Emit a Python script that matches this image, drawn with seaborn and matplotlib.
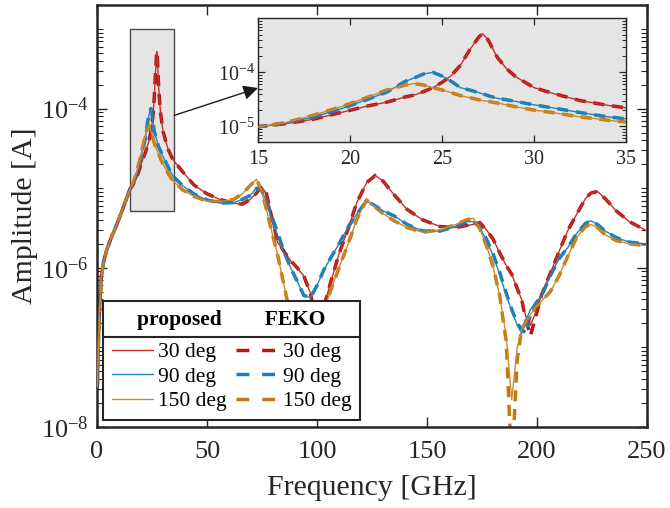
import numpy as np
import pandas as pd
import seaborn as sns
import matplotlib
matplotlib.use("Agg")
import matplotlib.pyplot as plt
from matplotlib.lines import Line2D
from matplotlib.patches import Rectangle
from matplotlib.font_manager import FontProperties
from matplotlib.ticker import (FixedLocator, LogLocator, NullLocator,
                               NullFormatter, LogFormatterMathtext)

# ---------------- data ----------------
freq_ghz = [0.2, 0.6, 1.2, 2, 3, 4.5, 6.5, 9, 12,
            15, 16.5, 18, 19.5, 21, 22, 23, 23.5, 24, 24.5, 25, 25.5, 26, 26.5, 27, 27.2,
            27.5, 28, 28.5, 29, 30, 31, 32.5, 34, 35,
            39, 44, 50, 56, 62, 66, 69.5, 72.5, 74.8, 77,
            79.5, 82, 85, 88, 91, 94, 97, 100, 103, 106,
            110, 114, 118, 122.5, 126.5, 130, 135, 141, 148, 156,
            163, 168, 171, 174, 177, 180, 183, 186, 188.5, 191,
            193, 195, 197, 199.5, 202, 206, 210, 214, 218, 222,
            224.5, 227.5, 231, 236, 242, 250]

proposed_30 = [4.5e-8, 1.3e-7, 3.5e-7, 7.9e-7, 1.2e-6, 1.7e-6, 2.4e-6, 3.5e-6, 5.8e-6,
               9.8e-6, 1.12e-5, 1.35e-5, 1.8e-5, 2.4e-5, 2.8e-5, 3.5e-5, 3.8e-5, 4.4e-5, 5.2e-5,
               6.5e-5, 8.7e-5, 1.35e-4, 2.6e-4, 4.5e-4, 5.2e-4, 4.0e-4, 1.9e-4, 1.17e-4, 8.3e-5,
               5.2e-5, 4.1e-5, 3.0e-5, 2.45e-5, 2.2e-5,
               1.6e-5, 1.1e-5, 8.5e-6, 7.2e-6, 6.5e-6, 6.3e-6, 7.2e-6, 8.7e-6, 1.05e-5, 8.5e-6,
               4.0e-6, 2.1e-6, 1.6e-6, 1.23e-6, 1.0e-6, 7.9e-7, 4.8e-7, 2.0e-7, 3.2e-7, 6.3e-7,
               1.5e-6, 3.0e-6, 6.5e-6, 1.17e-5, 1.45e-5, 1.23e-5, 8.3e-6, 5.4e-6, 4.0e-6, 3.3e-6,
               3.2e-6, 3.4e-6, 3.5e-6, 3.7e-6, 3.0e-6, 2.3e-6, 1.55e-6, 1.07e-6, 8.3e-7, 5.5e-7,
               4.0e-7, 2.4e-7, 1.9e-7, 2.8e-7, 4.5e-7, 8.5e-7, 1.6e-6, 2.95e-6, 4.7e-6, 7.4e-6,
               8.7e-6, 9.1e-6, 7.4e-6, 5.2e-6, 3.8e-6, 2.9e-6]

proposed_90 = [3.5e-8, 1.1e-7, 3.5e-7, 7.9e-7, 1.2e-6, 1.7e-6, 2.4e-6, 3.5e-6, 5.8e-6,
               9.8e-6, 1.15e-5, 1.48e-5, 2.1e-5, 3.2e-5, 4.3e-5, 6.8e-5, 7.9e-5, 9.3e-5, 1.0e-4,
               8.5e-5, 6.8e-5, 5.2e-5, 4.7e-5, 4.2e-5, 4.0e-5, 3.7e-5, 3.3e-5, 3.1e-5, 2.9e-5,
               2.5e-5, 2.2e-5, 1.8e-5, 1.5e-5, 1.38e-5,
               1.07e-5, 8.5e-6, 7.1e-6, 6.5e-6, 6.6e-6, 7.2e-6, 8.1e-6, 1.0e-5, 9.3e-6, 6.9e-6,
               4.0e-6, 2.6e-6, 1.5e-6, 1.0e-6, 6.8e-7, 4.5e-7, 4.2e-7, 6.0e-7, 9.3e-7, 1.3e-6,
               2.0e-6, 3.2e-6, 4.7e-6, 6.9e-6, 6.0e-6, 5.2e-6, 4.5e-6, 3.5e-6, 2.9e-6, 2.9e-6,
               3.3e-6, 3.8e-6, 3.8e-6, 3.2e-6, 2.2e-6, 1.45e-6, 8.3e-7, 4.5e-7, 2.9e-7, 1.9e-7,
               1.5e-7, 2.2e-7, 3.0e-7, 3.7e-7, 4.4e-7, 7.9e-7, 1.3e-6, 1.8e-6, 2.7e-6, 3.6e-6,
               3.9e-6, 3.5e-6, 2.9e-6, 2.4e-6, 2.1e-6, 2.0e-6]

proposed_150 = [3.2e-8, 1.0e-7, 3.2e-7, 7.6e-7, 1.2e-6, 1.7e-6, 2.4e-6, 3.5e-6, 5.8e-6,
                9.8e-6, 1.17e-5, 1.6e-5, 2.3e-5, 3.5e-5, 4.7e-5, 5.8e-5, 6.2e-5, 5.8e-5, 5.2e-5,
                4.7e-5, 4.2e-5, 3.7e-5, 3.4e-5, 3.1e-5, 3.0e-5, 2.9e-5, 2.7e-5, 2.5e-5, 2.3e-5,
                2.0e-5, 1.8e-5, 1.5e-5, 1.3e-5, 1.2e-5,
                9.5e-6, 7.9e-6, 6.9e-6, 6.8e-6, 7.2e-6, 8.5e-6, 1.07e-5, 1.3e-5, 9.3e-6, 5.4e-6,
                2.8e-6, 1.5e-6, 6.0e-7, 2.5e-7, 1.0e-7, 6.3e-8, 7.1e-8, 1.4e-7, 2.8e-7, 5.0e-7,
                1.0e-6, 1.95e-6, 4.0e-6, 7.1e-6, 5.8e-6, 4.8e-6, 3.9e-6, 3.2e-6, 2.8e-6, 3.0e-6,
                3.5e-6, 4.0e-6, 4.2e-6, 3.1e-6, 1.9e-6, 1.05e-6, 4.5e-7, 1.4e-7, 2.2e-8, 1.0e-7,
                1.7e-7, 2.1e-7, 2.6e-7, 3.2e-7, 3.8e-7, 5.0e-7, 7.9e-7, 1.4e-6, 2.4e-6, 3.3e-6,
                3.5e-6, 3.2e-6, 2.6e-6, 2.2e-6, 2.0e-6, 1.9e-6]

feko_30 = [4.5e-8, 1.3e-7, 3.5e-7, 7.9e-7, 1.2e-6, 1.7e-6, 2.4e-6, 3.5e-6, 5.8e-6,
           9.8e-6, 1.12e-5, 1.35e-5, 1.8e-5, 2.4e-5, 2.8e-5, 3.5e-5, 3.8e-5, 4.4e-5, 5.2e-5,
           6.5e-5, 8.7e-5, 1.35e-4, 2.6e-4, 4.5e-4, 5.2e-4, 4.0e-4, 1.9e-4, 1.17e-4, 8.3e-5,
           5.2e-5, 4.1e-5, 3.0e-5, 2.45e-5, 2.2e-5,
           1.6e-5, 1.1e-5, 8.5e-6, 7.2e-6, 6.5e-6, 6.3e-6, 7.2e-6, 8.7e-6, 1.05e-5, 8.6e-6,
           4.2e-6, 2.2e-6, 1.6e-6, 1.23e-6, 1.0e-6, 7.9e-7, 4.8e-7, 1.8e-7, 3.2e-7, 6.3e-7,
           1.5e-6, 3.0e-6, 6.5e-6, 1.17e-5, 1.45e-5, 1.23e-5, 8.3e-6, 5.4e-6, 4.0e-6, 3.3e-6,
           3.2e-6, 3.4e-6, 3.5e-6, 3.7e-6, 3.0e-6, 2.3e-6, 1.55e-6, 1.07e-6, 8.3e-7, 5.5e-7,
           4.0e-7, 2.2e-7, 1.4e-7, 2.5e-7, 4.5e-7, 8.5e-7, 1.6e-6, 2.95e-6, 4.7e-6, 7.4e-6,
           8.7e-6, 9.1e-6, 7.4e-6, 5.2e-6, 3.8e-6, 2.9e-6]

feko_90 = [3.5e-8, 1.1e-7, 3.5e-7, 7.9e-7, 1.2e-6, 1.7e-6, 2.4e-6, 3.5e-6, 5.8e-6,
           9.8e-6, 1.15e-5, 1.48e-5, 2.1e-5, 3.2e-5, 4.3e-5, 6.8e-5, 7.9e-5, 9.3e-5, 1.0e-4,
           8.5e-5, 6.8e-5, 5.2e-5, 4.7e-5, 4.2e-5, 4.0e-5, 3.7e-5, 3.3e-5, 3.1e-5, 2.9e-5,
           2.5e-5, 2.2e-5, 1.8e-5, 1.5e-5, 1.38e-5,
           1.07e-5, 8.5e-6, 7.1e-6, 6.5e-6, 6.6e-6, 7.2e-6, 8.1e-6, 1.0e-5, 9.3e-6, 7.2e-6,
           4.4e-6, 2.8e-6, 1.6e-6, 1.0e-6, 6.8e-7, 4.5e-7, 4.2e-7, 6.0e-7, 9.3e-7, 1.3e-6,
           2.0e-6, 3.2e-6, 4.7e-6, 6.9e-6, 6.0e-6, 5.2e-6, 4.5e-6, 3.5e-6, 2.9e-6, 2.9e-6,
           3.3e-6, 3.8e-6, 3.8e-6, 3.3e-6, 2.3e-6, 1.5e-6, 8.8e-7, 4.8e-7, 3.0e-7, 2.0e-7,
           1.7e-7, 1.5e-7, 2.6e-7, 3.6e-7, 4.4e-7, 7.9e-7, 1.3e-6, 1.8e-6, 2.7e-6, 3.6e-6,
           3.9e-6, 3.5e-6, 2.9e-6, 2.4e-6, 2.1e-6, 2.0e-6]

feko_150 = [3.2e-8, 1.0e-7, 3.2e-7, 7.6e-7, 1.2e-6, 1.7e-6, 2.4e-6, 3.5e-6, 5.8e-6,
            9.8e-6, 1.17e-5, 1.6e-5, 2.3e-5, 3.5e-5, 4.7e-5, 5.8e-5, 6.2e-5, 5.8e-5, 5.2e-5,
            4.7e-5, 4.2e-5, 3.7e-5, 3.4e-5, 3.1e-5, 3.0e-5, 2.9e-5, 2.7e-5, 2.5e-5, 2.3e-5,
            2.0e-5, 1.8e-5, 1.5e-5, 1.3e-5, 1.2e-5,
            9.5e-6, 7.9e-6, 6.9e-6, 6.8e-6, 7.2e-6, 8.5e-6, 1.07e-5, 1.3e-5, 9.3e-6, 5.4e-6,
            2.8e-6, 1.5e-6, 6.0e-7, 2.5e-7, 1.0e-7, 6.3e-8, 7.1e-8, 1.4e-7, 2.8e-7, 5.0e-7,
            1.0e-6, 1.95e-6, 4.0e-6, 7.1e-6, 5.8e-6, 4.8e-6, 3.9e-6, 3.2e-6, 2.8e-6, 3.0e-6,
            3.5e-6, 4.0e-6, 4.2e-6, 3.1e-6, 1.9e-6, 1.05e-6, 4.5e-7, 1.2e-7, 3.0e-9, 7.0e-8,
            1.7e-7, 2.1e-7, 2.6e-7, 3.2e-7, 3.8e-7, 5.0e-7, 7.9e-7, 1.4e-6, 2.4e-6, 3.3e-6,
            3.5e-6, 3.2e-6, 2.6e-6, 2.2e-6, 2.0e-6, 1.9e-6]

angle_labels = ["30 deg", "90 deg", "150 deg"]
proposed_series = [proposed_30, proposed_90, proposed_150]
feko_series = [feko_30, feko_90, feko_150]

# ---------------- style ----------------
solid_colors = ["#C3302A", "#2284BE", "#CC8A2C"]
dash_colors = ["#B5150F", "#1A7DB5", "#C27A10"]
text_col = "#262626"

sns.set_theme(style="white")
plt.rcParams.update({
    "font.family": ["Liberation Serif", "DejaVu Serif"],
    "mathtext.fontset": "custom",
    "mathtext.rm": "Liberation Serif",
    "mathtext.it": "Liberation Serif:italic",
    "mathtext.bf": "Liberation Serif:bold",
    "axes.edgecolor": text_col,
    "text.color": text_col,
    "xtick.color": text_col,
    "ytick.color": text_col,
    "axes.labelcolor": text_col,
})

rows = []
for lab, ys in zip(angle_labels, proposed_series):
    for f, a in zip(freq_ghz, ys):
        rows.append(("proposed", lab, f, a))
for lab, ys in zip(angle_labels, feko_series):
    for f, a in zip(freq_ghz, ys):
        rows.append(("FEKO", lab, f, a))
df = pd.DataFrame(rows, columns=["source", "angle", "freq", "amp"])

fig = plt.figure(figsize=(6.7, 5.08), dpi=100)
ax = fig.add_axes([0.1448, 0.1594, 0.8209, 0.8307])
axin = fig.add_axes([0.3851, 0.7211, 0.5493, 0.2429])

DASH = (0, (3.2, 2.2))


def draw(target, lw_d, lw_s):
    for i, lab in enumerate(angle_labels):
        sub = df[(df.source == "FEKO") & (df.angle == lab)]
        sns.lineplot(data=sub, x="freq", y="amp", ax=target, color=dash_colors[i],
                     linewidth=lw_d, linestyle=DASH, errorbar=None, legend=False,
                     zorder=2)
    for i, lab in enumerate(angle_labels):
        sub = df[(df.source == "proposed") & (df.angle == lab)]
        sns.lineplot(data=sub, x="freq", y="amp", ax=target, color=solid_colors[i],
                     linewidth=lw_s, errorbar=None, legend=False, zorder=3)


draw(ax, 2.5, 1.0)
draw(axin, 2.5, 1.0)

# main axes
ax.set_yscale("log")
ax.set_xlim(0, 250)
ax.set_ylim(1e-8, 2e-3)
ax.set_xticks([0, 50, 100, 150, 200, 250])
ax.xaxis.set_minor_locator(NullLocator())
ax.yaxis.set_major_locator(FixedLocator([1e-8, 1e-6, 1e-4]))
ax.yaxis.set_major_formatter(LogFormatterMathtext())
ax.yaxis.set_minor_locator(LogLocator(base=10, subs=np.arange(1, 10), numticks=100))
ax.yaxis.set_minor_formatter(NullFormatter())
ax.tick_params(which="both", direction="in", top=True, right=True, bottom=True, left=True)
ax.tick_params(which="major", length=7, width=1.0, labelsize=19)
ax.tick_params(which="minor", length=4, width=0.8)
ax.tick_params(axis="x", which="major", pad=10)
ax.tick_params(axis="y", which="major", pad=6)
for s in ax.spines.values():
    s.set_linewidth(1.8)
    s.set_color(text_col)
ax.set_xlabel("Frequency [GHz]", fontsize=21.5, labelpad=9)
ax.set_ylabel("Amplitude [A]", fontsize=21.5, labelpad=2)

# zoom rectangle
ax.add_patch(Rectangle((15, 5.2e-6), 20, 1e-3 - 5.2e-6, facecolor="#E5E5E5",
                       edgecolor="#4a4a4a", linewidth=1.0, zorder=1))

# inset
axin.set_facecolor("#E5E5E5")
axin.set_yscale("log")
axin.set_xlim(15, 35)
axin.set_ylim(5.2e-6, 1e-3)
axin.set_xticks([15, 20, 25, 30, 35])
axin.xaxis.set_minor_locator(NullLocator())
axin.yaxis.set_major_locator(FixedLocator([1e-5, 1e-4]))
axin.yaxis.set_major_formatter(LogFormatterMathtext())
axin.yaxis.set_minor_locator(LogLocator(base=10, subs=np.arange(1, 10), numticks=100))
axin.yaxis.set_minor_formatter(NullFormatter())
axin.tick_params(which="both", direction="in", top=True, right=True, bottom=True, left=True)
axin.tick_params(which="major", length=5, width=0.9, labelsize=14.5)
axin.tick_params(which="minor", length=3, width=0.7)
axin.tick_params(axis="x", which="major", pad=6)
axin.tick_params(axis="y", which="major", pad=2)
axin.set_xlabel("")
axin.set_ylabel("")
for s in axin.spines.values():
    s.set_linewidth(1.0)
    s.set_color(text_col)

# arrow from rectangle to inset
ax.annotate("", xy=(0.0, 0.435), xycoords=axin.transAxes,
            xytext=(35, 8.2e-5), textcoords="data",
            arrowprops=dict(arrowstyle="-|>", color="#1a1a1a", lw=1.0,
                            mutation_scale=22, shrinkA=0, shrinkB=0))

# legend
handles = [Line2D([], [], color=c, lw=1.0) for c in solid_colors] + \
          [Line2D([], [], color=c, lw=2.5, linestyle=(0, (3.7, 3.7))) for c in dash_colors]
labels = angle_labels + angle_labels
leg = ax.legend(handles, labels, ncol=2, loc="lower left", bbox_to_anchor=(0.011, 0.017),
                borderaxespad=0, fontsize=15.5, handlelength=1.9, handletextpad=0.25,
                columnspacing=0.45, labelspacing=0.2, borderpad=0.4,
                title="proposed        FEKO",
                title_fontproperties=FontProperties(family="Liberation Serif",
                                                    weight="bold", size=15.5),
                frameon=True, fancybox=False, framealpha=1.0)
leg._legend_box.sep = 9
leg.get_frame().set_edgecolor(text_col)
leg.get_frame().set_linewidth(1.5)
leg.get_frame().set_facecolor("white")
for t in leg.get_texts():
    t.set_color("black")
leg.get_title().set_color("black")

fig.canvas.draw()
r = fig.canvas.get_renderer()
fb = leg.get_frame().get_window_extent(r)
tb = leg.get_title().get_window_extent(r)
eb = leg.get_texts()[0].get_window_extent(r)
ysep = (tb.y0 + eb.y1) / 2.0
inv = fig.transFigure.inverted()
(x0, y0), (x1, _) = inv.transform([(fb.x0, ysep), (fb.x1, ysep)])
fig.add_artist(Line2D([x0, x1], [y0, y0], transform=fig.transFigure,
                      color=text_col, lw=1.5, zorder=10))

fig.savefig("out.png", dpi=100)
